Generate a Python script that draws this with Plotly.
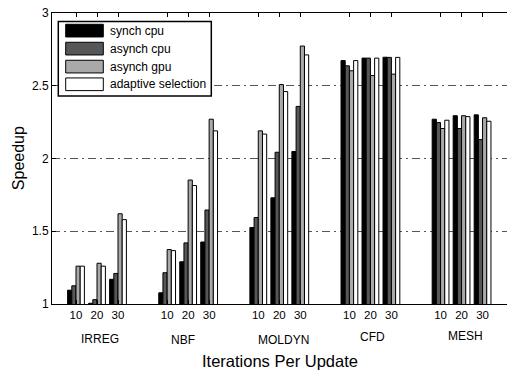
import plotly.graph_objects as go

benchmarks = ["IRREG", "NBF", "MOLDYN", "CFD", "MESH"]
iterations = ["10", "20", "30"]
series_names = ["synch cpu", "asynch cpu", "asynch gpu", "adaptive selection"]

synch_cpu = [1.095, 1.005, 1.17, 1.077, 1.29, 1.426, 1.526, 1.73, 2.048, 2.673, 2.69, 2.696, 2.27, 2.294, 2.30]
asynch_cpu = [1.125, 1.03, 1.21, 1.215, 1.42, 1.646, 1.594, 2.043, 2.358, 2.637, 2.69, 2.695, 2.247, 2.206, 2.13]
asynch_gpu = [1.26, 1.28, 1.62, 1.374, 1.852, 2.27, 2.19, 2.508, 2.773, 2.603, 2.57, 2.58, 2.206, 2.294, 2.28]
adaptive = [1.26, 1.26, 1.58, 1.367, 1.814, 2.19, 2.168, 2.46, 2.712, 2.673, 2.69, 2.695, 2.263, 2.288, 2.256]

series_values = [synch_cpu, asynch_cpu, asynch_gpu, adaptive]
colors = ["#000000", "#575757", "#a9a9a9", "#ffffff"]

BENCH_SPACING = 4.34
xpos = []
ticktext = []
for b in range(len(benchmarks)):
    for k in range(len(iterations)):
        xpos.append(b * BENCH_SPACING + k)
        ticktext.append(iterations[k])

FONT = "Liberation Sans, Arial, Helvetica, sans-serif"

fig = go.Figure()
for name, vals, col in zip(series_names, series_values, colors):
    fig.add_trace(go.Bar(x=xpos, y=vals, name=name,
                         marker=dict(color=col, line=dict(color="#000000", width=1)),
                         showlegend=False))

W, H = 507, 370
L, R, T, B = 52, 0, 12.7, 66
pw, ph = W - L - R, H - T - B

def px_x(x):
    return (x - L) / pw

def px_y(y):
    return (H - B - y) / ph

shapes = []
annotations = []
# legend box
shapes.append(dict(type="rect", xref="paper", yref="paper", layer="above",
                   x0=px_x(58.3), x1=px_x(211.3), y0=px_y(95.7), y1=px_y(21.3),
                   fillcolor="white", line=dict(color="black", width=1.5)))
row_top = [24.0, 42.0, 60.0, 77.7]
for i, (name, col) in enumerate(zip(series_names, colors)):
    y0 = row_top[i]
    shapes.append(dict(type="rect", xref="paper", yref="paper", layer="above",
                       x0=px_x(65.7), x1=px_x(103.3), y0=px_y(y0 + 12.7), y1=px_y(y0),
                       fillcolor=col, line=dict(color="black", width=1)))
    annotations.append(dict(text=name, xref="paper", yref="paper", x=px_x(108.0),
                            y=px_y(y0 + 6.5), xanchor="left", yanchor="middle",
                            showarrow=False, font=dict(size=12, color="black", family=FONT)))

# benchmark labels (slightly staggered as in the original)
bench_label_px = [(100, 339), (183, 340), (283, 340), (372, 337.5), (465, 336.5)]
for b, name in enumerate(benchmarks):
    annotations.append(dict(text=name, xref="paper", yref="paper", x=px_x(bench_label_px[b][0]),
                            y=px_y(bench_label_px[b][1]), xanchor="center", yanchor="middle",
                            showarrow=False, font=dict(size=12, color="black", family=FONT)))

annotations.append(dict(text="Iterations Per Update", xref="paper", yref="paper",
                        x=px_x(280), y=px_y(361), xanchor="center", yanchor="middle",
                        showarrow=False, font=dict(size=16.5, color="black", family=FONT)))
annotations.append(dict(text="Speedup", xref="paper", yref="paper",
                        x=px_x(18), y=px_y(158), xanchor="center", yanchor="middle",
                        textangle=-90, showarrow=False,
                        font=dict(size=16, color="black", family=FONT)))

x_lo = -24 / 21.0
x_hi = x_lo + pw / 21.0

fig.update_layout(
    width=W, height=H,
    margin=dict(l=L, r=R, t=T, b=B, pad=0),
    paper_bgcolor="white", plot_bgcolor="white",
    barmode="group", bargap=0.2, bargroupgap=0,
    font=dict(family=FONT, color="black"),
    shapes=shapes, annotations=annotations,
    xaxis=dict(range=[x_lo, x_hi], tickmode="array", tickvals=xpos, ticktext=ticktext,
               ticks="inside", ticklen=4, tickcolor="black", showline=True, linecolor="black",
               linewidth=1, mirror="ticks", showgrid=False, zeroline=False,
               tickfont=dict(size=11.5, family=FONT, color="black")),
    yaxis=dict(range=[1, 3], tickvals=[1, 1.5, 2, 2.5, 3], ticktext=["1", "1.5", "2", "2.5", "3"],
               ticks="inside", ticklen=4, tickcolor="black", showline=True, linecolor="black",
               linewidth=1, mirror=False, showgrid=True, gridcolor="#555555", gridwidth=1,
               griddash="8px,4px,2px,4px", zeroline=False,
               tickfont=dict(size=12, family=FONT, color="black")),
)

fig.write_html("out.html")
